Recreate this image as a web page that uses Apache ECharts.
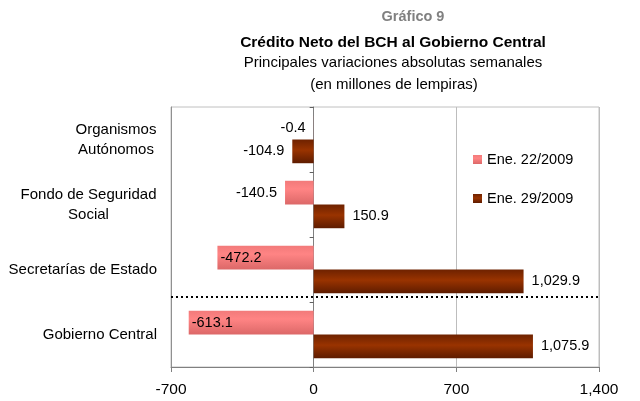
<!DOCTYPE html>
<html><head><meta charset="utf-8">
<script src="https://cdn.jsdelivr.net/npm/echarts@6/dist/echarts.min.js"></script>
<style>html,body{margin:0;padding:0;background:#fff}#c{width:640px;height:401px}</style>
</head><body><div id="c"></div>
<script>
const categories = ['Organismos\nAutónomos', 'Fondo de Seguridad\nSocial', 'Secretarías de Estado', 'Gobierno Central'];
const seriesNames = ['Ene. 22/2009', 'Ene. 29/2009'];
const jan22 = [-0.4, -140.5, -472.2, -613.1];
const jan29 = [-104.9, 150.9, 1029.9, 1075.9];
const xTicks = [-700, 0, 700, 1400];
// separator between "Secretarías de Estado" and "Gobierno Central" (in category units)
const separatorPos = 2.92;

const fmt = v => v.toLocaleString('en-US', {minimumFractionDigits: 1, maximumFractionDigits: 1});
const font = 'Liberation Sans, Arial, sans-serif';
const catFont = 15;

const ctx = document.createElement('canvas').getContext('2d');
ctx.font = catFont + 'px ' + font;
const measure = s => Math.ceil(ctx.measureText(s).width) + 1;

function labelFor(v) {
  if (v >= 0) return {position: 'right', distance: 8};
  if (v < -300) return {position: 'insideLeft', distance: 3};
  return {position: 'left', distance: 8};
}
const mkData = arr => arr.map(v => ({value: v, label: labelFor(v)}));

const pinkGrad = new echarts.graphic.LinearGradient(0, 0, 0, 1, [
  {offset: 0, color: '#f27a7a'}, {offset: 0.35, color: '#ff8484'}, {offset: 1, color: '#dc6868'}]);
const darkGrad = new echarts.graphic.LinearGradient(0, 0, 0, 1, [
  {offset: 0, color: '#6e2200'}, {offset: 0.45, color: '#993300'}, {offset: 1, color: '#5e1c00'}]);

const rich = {};
categories.forEach((c, i) => {
  const lines = c.split('\n');
  if (lines.length > 1) {
    rich['c' + i] = {width: Math.max(...lines.map(measure)), align: 'center', fontSize: catFont,
      color: '#000', fontFamily: font, lineHeight: 20};
  }
});

const chart = echarts.init(document.getElementById('c'));
chart.setOption({
  animation: false,
  textStyle: {fontFamily: font},
  title: [
    {text: 'Gráfico 9', left: 408, top: 4, textAlign: 'center', textStyle: {fontSize: 14.5, fontWeight: 'bold', color: '#808080', fontFamily: font}},
    {text: 'Crédito Neto del BCH al Gobierno Central', left: 388, top: 30, textAlign: 'center', textStyle: {fontSize: 15.5, fontWeight: 'bold', color: '#000', fontFamily: font}},
    {text: 'Principales variaciones absolutas semanales', left: 388, top: 50, textAlign: 'center', textStyle: {fontSize: 15, fontWeight: 'normal', color: '#000', fontFamily: font}},
    {text: '(en millones de lempiras)', left: 389, top: 72, textAlign: 'center', textStyle: {fontSize: 15, fontWeight: 'normal', color: '#000', fontFamily: font}}
  ],
  legend: {
    orient: 'vertical', left: 468, top: 147, itemWidth: 9, itemHeight: 9, itemGap: 24,
    icon: 'rect', data: seriesNames,
    textStyle: {fontSize: 14.5, color: '#000', fontFamily: font}
  },
  grid: {left: 171, right: 41, top: 107, bottom: 34, containLabel: false,
    show: true, borderColor: '#c0c0c0', borderWidth: 1},
  xAxis: {
    type: 'value', min: -700, max: 1400, interval: 700,
    axisLine: {show: true, onZero: false, lineStyle: {color: '#808080'}},
    axisTick: {show: true, length: 5, inside: false, lineStyle: {color: '#808080'}},
    axisLabel: {fontSize: 15.5, color: '#000', margin: 15, fontFamily: font,
      formatter: v => xTicks.includes(v) ? v.toLocaleString('en-US') : ''},
    splitLine: {show: true, lineStyle: {color: '#bdbdbd', width: 1}}
  },
  yAxis: [
    {
      type: 'category', data: categories, inverse: true,
      axisLine: {show: true, onZero: false, lineStyle: {color: '#909090'}}, axisTick: {show: false},
      axisLabel: {
        fontSize: catFont, color: '#000', margin: 14, fontFamily: font, lineHeight: 20,
        formatter: function (v, i) {
          const lines = v.split('\n');
          if (lines.length === 1) return v;
          return lines.map(l => '{c' + i + '|' + l + '}').join('\n');
        },
        rich: rich
      },
      splitLine: {show: false}
    },
    {
      type: 'category', data: categories, inverse: true, position: 'left',
      axisLine: {show: true, onZero: true, lineStyle: {color: '#808080'}},
      axisTick: {show: true, length: 4, lineStyle: {color: '#606060'}},
      axisLabel: {show: false}, splitLine: {show: false}
    },
    {
      type: 'value', show: false, min: -0.5, max: 3.5, inverse: true
    }
  ],
  series: [
    {
      name: seriesNames[0], type: 'bar', data: mkData(jan22), barGap: '0%', barCategoryGap: '27%',
      itemStyle: {color: pinkGrad},
      label: {show: true, formatter: p => fmt(p.value), fontSize: 14.5, color: '#000', fontFamily: font}
    },
    {
      name: seriesNames[1], type: 'bar', data: mkData(jan29), barGap: '0%', barCategoryGap: '27%',
      itemStyle: {color: darkGrad},
      label: {show: true, formatter: p => fmt(p.value), fontSize: 14.5, color: '#000', fontFamily: font}
    },
    {
      name: 'separator', type: 'line', yAxisIndex: 2, data: [], silent: true,
      markLine: {
        symbol: 'none', silent: true, label: {show: false},
        lineStyle: {type: [2, 3], color: '#000', width: 2},
        data: [{yAxis: separatorPos - 0.5}]
      }
    }
  ]
});
</script></body></html>
